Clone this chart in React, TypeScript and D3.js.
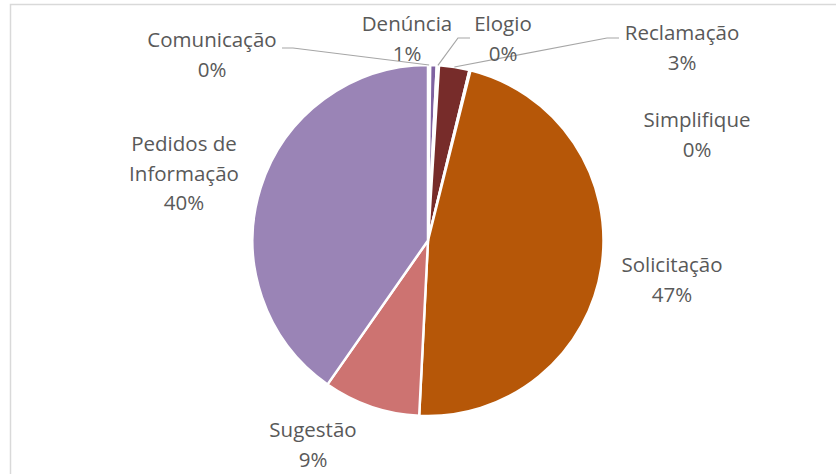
import React from "react";
import * as d3 from "d3";

const categories = [
  "Comunicação",
  "Denúncia",
  "Elogio",
  "Reclamação",
  "Simplifique",
  "Solicitação",
  "Sugestão",
  "Pedidos de Informação",
];
const values = [0.2, 0.6, 0.2, 2.8, 0.1, 46.9, 8.9, 40.3];
const colors = ["#4A7EBB", "#7F62A1", "#9BBB59", "#772C2A", "#4BACC6", "#B65708", "#CD7371", "#9A84B6"];

// label layout (line texts, center x, first baseline y, optional leader elbow points)
const labelLines = [
  ["Comunicação"],
  ["Denúncia"],
  ["Elogio"],
  ["Reclamação"],
  ["Simplifique"],
  ["Solicitação"],
  ["Sugestão"],
  ["Pedidos de", "Informação"],
];
const labelPos: [number, number][] = [
  [212, 47],
  [407, 31],
  [503, 31],
  [682, 40],
  [697, 127],
  [672, 272],
  [313, 437],
  [184, 151],
];
const leaders: ([number, number][] | null)[] = [
  [[293, 48], [282, 48]],
  null,
  [[458, 38], [470, 38]],
  [[607, 38], [619, 38]],
  null,
  null,
  null,
  null,
];

const W = 836;
const H = 474;
const cx = 428;
const cy = 240.5;
const R = 175.5;
const lineH = 29.5;

export default function App() {
  const data = categories.map((c, i) => ({ c, v: values[i], i }));
  const total = d3.sum(values);
  const pie = d3.pie<any>().value((d) => d.v).sort(null).startAngle(0).endAngle(2 * Math.PI);
  const arcs = pie(data);
  const arc = d3.arc<any>().innerRadius(0).outerRadius(R);
  const fmt = (v: number) => Math.round((v / total) * 100) + "%";

  return (
    <svg width={W} height={H} style={{ position: "absolute", left: 0, top: 0, background: "#fff" }}>
      <rect x={10.5} y={4.5} width={900} height={600} fill="#fff" stroke="#D9D9D9" strokeWidth={1.5} />
      <g transform={`translate(${cx},${cy})`}>
        {arcs.map((a, i) => (
          <path key={i} d={arc(a) || ""} fill={colors[i]} stroke="#fff" strokeWidth={2.5} strokeLinejoin="round" />
        ))}
      </g>
      {arcs.map((a, i) => {
        const pts = leaders[i];
        if (!pts) return null;
        const mid = (a.startAngle + a.endAngle) / 2;
        const ax = cx + R * Math.sin(mid);
        const ay = cy - R * Math.cos(mid);
        const all = [[ax, ay], ...pts] as [number, number][];
        return (
          <path key={"l" + i} d={d3.line()(all) || ""} fill="none" stroke="#A6A6A6" strokeWidth={1.2} />
        );
      })}
      {arcs.map((a, i) => {
        const [x, y] = labelPos[i];
        const lines = [...labelLines[i], fmt(values[i])];
        return (
          <text key={"t" + i} x={x} y={y} textAnchor="middle" fill="#595959" fontFamily="'Open Sans', Lato, sans-serif" fontSize={20.5}>
            {lines.map((t, j) => (
              <tspan key={j} x={x} y={y + j * lineH}>
                {t}
              </tspan>
            ))}
          </text>
        );
      })}
    </svg>
  );
}
